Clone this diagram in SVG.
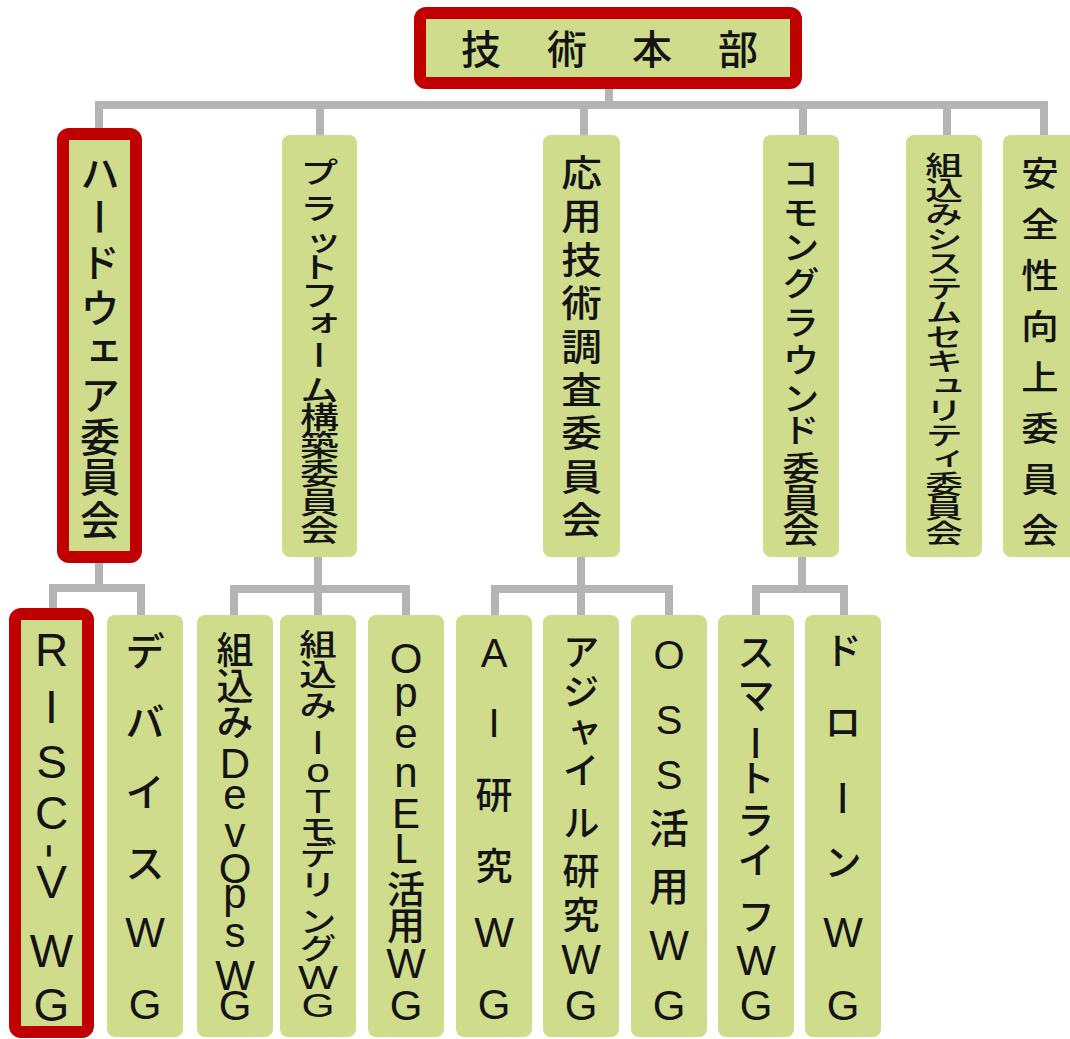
<svg xmlns="http://www.w3.org/2000/svg" width="1070" height="1039" viewBox="0 0 1070 1039">
<style>
.c{fill:none;stroke:#b4b4b4;stroke-width:8}
.b{fill:#cfdc8b}
.r{fill:#cfdc8b;stroke:#c00000;stroke-width:12}
.v{writing-mode:vertical-rl;text-orientation:upright;text-anchor:middle;fill:#141414}
.h{text-anchor:middle;dominant-baseline:central;fill:#141414}
.j{font-family:"Noto Sans CJK JP",sans-serif;font-weight:500}
.l{font-family:"Liberation Sans","Noto Sans CJK JP",sans-serif}
.sw{text-orientation:sideways}
</style>
<rect width="1070" height="1039" fill="#ffffff"/>
<g id="connectors">
<path class="c" d="M609,88 V105 M99,130 V105 H1044 V137 M320,105 V137 M584,105 V137 M803,105 V137 M947,105 V137"/>
<path class="c" d="M99,562 V588 M53,610 V588 H141 V617"/>
<path class="c" d="M318,557 V589 M234,617 V589 H406 V617 M318,589 V617"/>
<path class="c" d="M581,557 V617 M495,617 V589 H669 V617"/>
<path class="c" d="M802,557 V589 M756,617 V589 H844 V617"/>
</g>
<g id="n-gijutsu">
<rect class="r" x="420" y="13" width="376" height="70" rx="6"/>
<text class="h j" font-size="40" x="481 567 652 738" y="47">技術本部</text>
</g>
<g id="n-hardware">
<rect class="r" x="63" y="134" width="73" height="423" rx="6"/>
<text class="v j" font-size="40" x="100" y="173 217 262 308 352 395 437 477 520">ハードウェア委員会</text>
</g>
<g id="n-platform">
<rect class="b" x="282" y="135" width="75" height="422" rx="8"/>
<text class="v j" font-size="30" transform="translate(319.5,0) scale(1.3,1)" x="0" y="172 208 243 267 295 323 355 390 417 445 473 502 530">プラットフォーム構築委員会</text>
</g>
<g id="n-ouyou">
<rect class="b" x="543" y="135" width="77" height="422" rx="8"/>
<text class="v j" font-size="37" transform="translate(581.5,0) scale(1.1,1)" x="0" y="173 216 260 303 347 390 433 477 520">応用技術調査委員会</text>
</g>
<g id="n-common">
<rect class="b" x="763" y="135" width="76" height="422" rx="8"/>
<text class="v j" font-size="34" transform="translate(801,0) scale(1.1,1)" x="0" y="173 212 247 283 322 360 398 430 468 500 530">コモングラウンド委員会</text>
</g>
<g id="n-security">
<rect class="b" x="906" y="135" width="76" height="422" rx="8"/>
<text class="v j" font-size="26" transform="translate(944,0) scale(1.45,1)" x="0" y="165 190 214 239 263 288 312 337 361 386 410 435 459 484 508 533">組込みシステムセキュリティ委員会</text>
</g>
<g id="n-safety">
<rect class="b" x="1003" y="135" width="76" height="422" rx="8"/>
<text class="v j" font-size="34" transform="translate(1040,0) scale(1.1,1)" x="0" y="173 224 275 326 377 428 479 530">安全性向上委員会</text>
</g>
<g id="n-riscv">
<rect class="r" x="15" y="614" width="73" height="418" rx="6"/>
<text class="v l" font-size="46" x="51.5"><tspan y="650 707 762 813">RISC</tspan><tspan class="sw" y="851">-</tspan><tspan y="882 916 951 1005">V WG</tspan></text>
</g>
<g id="n-device">
<rect class="b" x="107" y="615" width="76" height="422" rx="8"/>
<text class="v" x="145"><tspan class="j" font-size="40" y="651 722 792 863">デバイス</tspan><tspan class="l" font-size="42" y="932 1004">WG</tspan></text>
</g>
<g id="n-devops">
<rect class="b" x="197" y="615" width="76" height="422" rx="8"/>
<text class="v" x="235"><tspan class="j" font-size="37" y="650 686 722">組込み</tspan><tspan class="l" font-size="42" y="763 794 832 868 893 932 975 1005">DevOpsWG</tspan></text>
</g>
<g id="n-iot">
<rect class="b" x="280" y="615" width="76" height="422" rx="8"/>
<text class="v" transform="translate(318,0) scale(1.25,1)" x="0"><tspan class="j" font-size="30" y="644 674 705">組込み</tspan><tspan class="l" font-size="34" y="742 770 801">IoT</tspan><tspan class="j" font-size="30" y="828 853 883 920 947">モデリング</tspan><tspan class="l" font-size="34" y="977 1005">WG</tspan></text>
</g>
<g id="n-openel">
<rect class="b" x="368" y="615" width="76" height="422" rx="8"/>
<text class="v" x="406"><tspan class="l" font-size="42" y="658 692 733 772 813 848">OpenEL</tspan><tspan class="j" font-size="38" y="889 925">活用</tspan><tspan class="l" font-size="42" y="963 1005">WG</tspan></text>
</g>
<g id="n-ai">
<rect class="b" x="456" y="615" width="76" height="422" rx="8"/>
<text class="v" x="494"><tspan class="l" font-size="40" y="653 723">AI</tspan><tspan class="j" font-size="37" y="795 866">研究</tspan><tspan class="l" font-size="42" y="932 1004">WG</tspan></text>
</g>
<g id="n-agile">
<rect class="b" x="543" y="615" width="76" height="422" rx="8"/>
<text class="v" x="581"><tspan class="j" font-size="37" y="652 692 733 770 823 871 915">アジャイル研究</tspan><tspan class="l" font-size="42" y="959 1005">WG</tspan></text>
</g>
<g id="n-oss">
<rect class="b" x="631" y="615" width="76" height="422" rx="8"/>
<text class="v" x="669"><tspan class="l" font-size="40" y="655 720 775">OSS</tspan><tspan class="j" font-size="40" y="828 886">活用</tspan><tspan class="l" font-size="42" y="945 1005">WG</tspan></text>
</g>
<g id="n-smartlife">
<rect class="b" x="718" y="615" width="76" height="422" rx="8"/>
<text class="v" x="756"><tspan class="j" font-size="38" y="652 695 743 778 820 860 916">スマートライフ</tspan><tspan class="l" font-size="42" y="960 1005">WG</tspan></text>
</g>
<g id="n-drone">
<rect class="b" x="805" y="615" width="76" height="422" rx="8"/>
<text class="v" x="843"><tspan class="j" font-size="38" y="650 722 798 862">ドローン</tspan><tspan class="l" font-size="42" y="932 1005">WG</tspan></text>
</g>
</svg>
